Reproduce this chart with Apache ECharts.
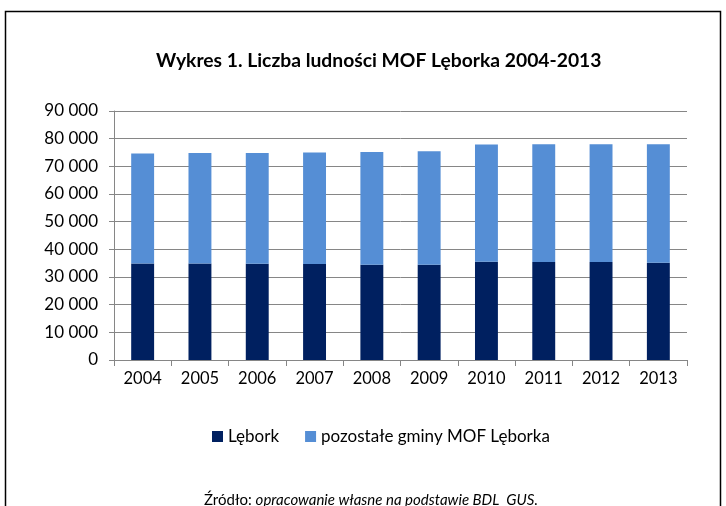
<!DOCTYPE html>
<html>
<head>
<meta charset="utf-8">
<script src="https://cdn.jsdelivr.net/npm/echarts@6/dist/echarts.min.js"></script>
<style>
  html, body { margin: 0; padding: 0; background: #fff; }
  #chart { width: 726px; height: 506px; }
</style>
</head>
<body>
<div id="chart"></div>
<script>
// lata i dane
const years = ['2004', '2005', '2006', '2007', '2008', '2009', '2010', '2011', '2012', '2013'];
const lebork = [34910, 34910, 34770, 34660, 34420, 34420, 35500, 35380, 35380, 35140];
const pozostale = [39710, 39930, 40070, 40300, 40790, 41030, 42360, 42600, 42600, 42840];
const seriesNames = ['Lębork', 'pozostałe gminy MOF Lęborka'];

const FONT = 'Lato';

const chart = echarts.init(document.getElementById('chart'));
chart.setOption({
  animation: false,
  textStyle: { fontFamily: FONT },
  title: [
    {
      text: 'Wykres 1. Liczba ludności MOF Lęborka 2004-2013',
      left: 151,
      top: 46,
      textStyle: { fontSize: 19.3, fontWeight: 'bold', color: '#000', fontFamily: FONT }
    },
    {
      // źródło danych pod wykresem
      text: '{n|Źródło: }{i|opracowanie własne na podstawie BDL  GUS.}',
      left: 199,
      top: 488,
      textStyle: {
        fontWeight: 'normal',
        rich: {
          n: { fontSize: 15, color: '#000', fontWeight: 'normal', fontFamily: FONT },
          i: { fontSize: 15, color: '#000', fontWeight: 'normal', fontStyle: 'italic', fontFamily: FONT }
        }
      }
    }
  ],
  graphic: [
    {
      type: 'rect',
      shape: { x: 5.5, y: 11.5, width: 715, height: 520 },
      style: { fill: 'none', stroke: '#000', lineWidth: 1.5 },
      silent: true
    }
  ],
  legend: {
    top: 423,
    left: 207,
    itemWidth: 11,
    itemHeight: 11,
    itemGap: 26,
    icon: 'rect',
    textStyle: { fontSize: 17, color: '#000' },
    data: seriesNames
  },
  grid: { left: 114, right: 39, top: 111, bottom: 146 },
  xAxis: {
    type: 'category',
    data: years,
    axisLine: { lineStyle: { color: '#868686', width: 1 } },
    axisTick: { show: true, length: 6, lineStyle: { color: '#868686' } },
    axisLabel: { fontSize: 16.5, color: '#000', margin: 10 }
  },
  yAxis: {
    type: 'value',
    min: 0,
    max: 90000,
    interval: 10000,
    axisLine: { show: true, lineStyle: { color: '#868686' } },
    axisTick: { show: true, length: 5, lineStyle: { color: '#868686' } },
    splitLine: { lineStyle: { color: '#868686', width: 1 } },
    axisLabel: {
      fontSize: 17,
      color: '#000',
      margin: 16,
      formatter: v => v === 0 ? '0' : String(v).replace(/\B(?=(\d{3})+(?!\d))/g, ' ')
    }
  },
  series: [
    {
      name: seriesNames[0],
      type: 'bar',
      stack: 'total',
      barWidth: '40%',
      data: lebork,
      itemStyle: { color: '#002060' }
    },
    {
      name: seriesNames[1],
      type: 'bar',
      stack: 'total',
      barWidth: '40%',
      data: pozostale,
      itemStyle: { color: '#558ED5' }
    }
  ]
});
</script>
</body>
</html>
